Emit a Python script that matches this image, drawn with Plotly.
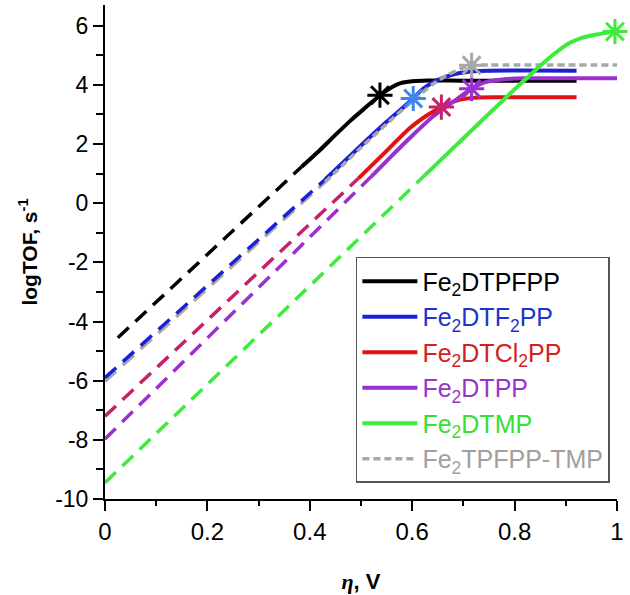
import plotly.graph_objects as go

# ---------------- data ----------------
names = ["Fe<sub>2</sub>DTPFPP", "Fe<sub>2</sub>DTF<sub>2</sub>PP", "Fe<sub>2</sub>DTCl<sub>2</sub>PP",
         "Fe<sub>2</sub>DTPP", "Fe<sub>2</sub>DTMP", "Fe<sub>2</sub>TPFPP-TMP"]

# measured (solid) parts
black_x = [0.384, 0.42, 0.446, 0.48, 0.51, 0.537, 0.56, 0.576, 0.60, 0.63, 0.70, 0.921]
black_y = [1.23, 1.80, 2.24, 2.80, 3.25, 3.65, 3.92, 4.05, 4.12, 4.15, 4.14, 4.14]

blue_x = [0.43, 0.50, 0.55, 0.58, 0.602, 0.62, 0.641, 0.665, 0.693, 0.73, 0.921]
blue_y = [0.80, 1.95, 2.75, 3.20, 3.54, 3.85, 4.09, 4.27, 4.40, 4.47, 4.48]

red_x = [0.495, 0.543, 0.596, 0.63, 0.657, 0.687, 0.719, 0.76, 0.921]
red_y = [0.84, 1.65, 2.55, 2.98, 3.25, 3.47, 3.56, 3.58, 3.58]

purple_x = [0.52, 0.56, 0.60, 0.64, 0.68, 0.716, 0.745, 0.78, 0.82, 1.0]
purple_y = [0.90, 1.60, 2.28, 2.92, 3.43, 3.87, 4.10, 4.19, 4.22, 4.22]

green_x = [0.625, 0.68, 0.732, 0.771, 0.80, 0.83, 0.86, 0.885, 0.908, 0.93, 0.96, 0.996]
green_y = [0.95, 1.86, 2.73, 3.37, 3.85, 4.33, 4.80, 5.15, 5.42, 5.58, 5.70, 5.80]

gray_x = [0.43, 0.50, 0.55, 0.60, 0.64, 0.67, 0.695, 0.716, 0.75, 1.0]
gray_y = [0.72, 1.88, 2.68, 3.45, 4.02, 4.35, 4.55, 4.66, 4.67, 4.67]

# extrapolated (dashed) parts
black_ex_x = [0.025, 0.384]
black_ex_y = [-4.55, 1.23]
blue_ex_x = [0.0, 0.43]
blue_ex_y = [-5.90, 0.80]
red_ex_x = [0.0, 0.495]
red_ex_y = [-7.20, 0.84]
purple_ex_x = [0.0, 0.52]
purple_ex_y = [-7.97, 0.90]
green_ex_x = [0.0, 0.625]
green_ex_y = [-9.45, 0.95]
gray_ex_x = [0.0, 0.43]
gray_ex_y = [-6.02, 0.72]

# asterisk points
star_x = [0.537, 0.602, 0.657, 0.716, 0.996, 0.716]
star_y = [3.65, 3.54, 3.25, 3.87, 5.80, 4.66]

x_ticks = [0, 0.2, 0.4, 0.6, 0.8, 1]
x_labels = ["0", "0.2", "0.4", "0.6", "0.8", "1"]
y_ticks = [-10, -8, -6, -4, -2, 0, 2, 4, 6]
y_labels = ["-10", "-8", "-6", "-4", "-2", "0", "2", "4", "6"]

# ---------------- styles ----------------
c_black = "#000000"
c_blue = "#1c22d4"
c_red = "#e01212"
c_crimson = "#c8206c"
c_purple = "#9a30d0"
c_green = "#3deb3d"
c_gray = "#a8a8a8"
c_bluestar = "#3d85f0"
text_cols = ["#000000", "#2233cc", "#d42020", "#9933cc", "#33e033", "#a0a0a0"]

LW = 4
DASH = "15px,9px"

fig = go.Figure()

def add_line(x, y, color, dash="solid", name=None, show=False, rank=None, width=LW, shape="spline"):
    fig.add_trace(go.Scatter(
        x=x, y=y, mode="lines", name=name, showlegend=show,
        legendrank=rank if rank is not None else 1000,
        line=dict(color=color, width=width, dash=dash, shape=shape, smoothing=0.6),
        cliponaxis=False, hoverinfo="skip"))

# extrapolations
add_line(gray_ex_x, gray_ex_y, c_gray, DASH, width=3.5, shape="linear")
add_line(blue_ex_x, blue_ex_y, c_blue, DASH, width=3.5, shape="linear")
add_line(black_ex_x, black_ex_y, c_black, DASH, width=3.5, shape="linear")
add_line(red_ex_x, red_ex_y, c_crimson, DASH, width=3.5, shape="linear")
add_line(purple_ex_x, purple_ex_y, c_purple, DASH, width=3.5, shape="linear")
add_line(green_ex_x, green_ex_y, c_green, DASH, width=3.5, shape="linear")

def lname(i):
    return '<span style="color:%s">%s</span>' % (text_cols[i], names[i])

# measured curves
add_line(black_x, black_y, c_black, name=lname(0), show=True, rank=1)
add_line(blue_x, blue_y, c_blue, name=lname(1), show=True, rank=2)
add_line(red_x, red_y, c_red, name=lname(2), show=True, rank=3)
add_line(purple_x, purple_y, c_purple, name=lname(3), show=True, rank=4)
add_line(gray_x, gray_y, c_gray, dash="7px,4px", name=lname(5), show=True, rank=6, width=3.5)
add_line(green_x, green_y, c_green, name=lname(4), show=True, rank=5)

# asterisks
star_cols = [c_black, c_bluestar, c_crimson, c_purple, c_green, c_gray]
fig.add_trace(go.Scatter(
    x=star_x, y=star_y, mode="markers", showlegend=False, cliponaxis=False,
    marker=dict(symbol="asterisk-open", size=21, color=star_cols,
                line=dict(color=star_cols, width=3)),
    hoverinfo="skip"))

font_main = "Liberation Sans, Arial, sans-serif"

fig.update_layout(
    width=630, height=595,
    margin=dict(l=105, r=13, t=5, b=96, autoexpand=False),
    paper_bgcolor="white", plot_bgcolor="white",
    font=dict(family=font_main, size=21, color="black"),
    showlegend=True,
    legend=dict(
        x=0.49, y=0.49, xanchor="left", yanchor="top",
        bgcolor="white", bordercolor="#555555", borderwidth=1.5,
        font=dict(family=font_main, size=25),
        itemwidth=55, tracegroupgap=0,
    ),
    xaxis=dict(
        range=[0, 1], showgrid=False, zeroline=False, automargin=False,
        showline=True, linecolor="black", linewidth=2,
        tickmode="array", tickvals=x_ticks, ticktext=x_labels,
        ticks="outside", ticklen=10, tickwidth=2, tickcolor="black",
        minor=dict(dtick=0.1, ticks="outside", ticklen=5, tickwidth=2, tickcolor="black"),
        tickfont=dict(size=24),
        title=dict(text='<b><span style="font-family:\'Liberation Serif\',serif"><i>η</i></span>, V</b>',
                   font=dict(size=22), standoff=30),
    ),
    yaxis=dict(
        range=[-10, 6.7], showgrid=False, zeroline=False, automargin=False,
        showline=True, linecolor="black", linewidth=2,
        tickmode="array", tickvals=y_ticks, ticktext=y_labels,
        ticks="outside", ticklen=10, tickwidth=2, tickcolor="black",
        minor=dict(dtick=1, ticks="outside", ticklen=7, tickwidth=2, tickcolor="black"),
        tickfont=dict(size=23),
        title=dict(text="<b>logTOF, s<sup>-1</sup></b>", font=dict(size=21), standoff=12),
    ),
)

fig.write_html("out.html", config={"displayModeBar": False},
               post_script="document.body.style.margin='0px';")
